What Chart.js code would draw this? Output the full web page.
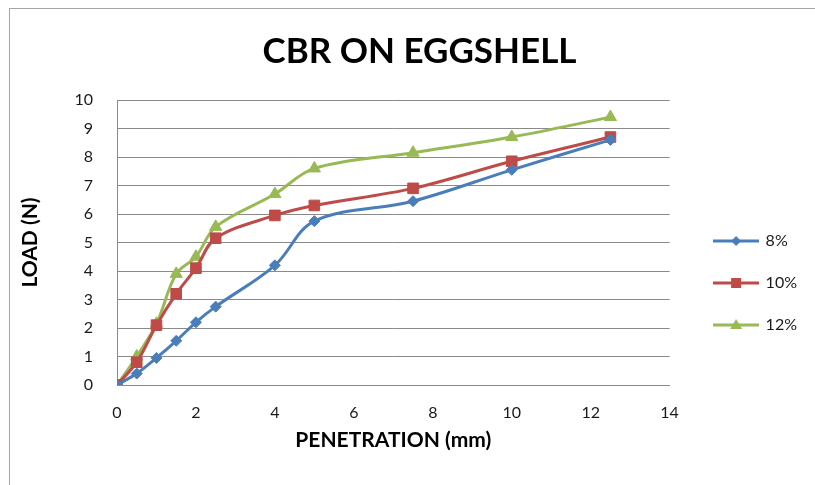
<!DOCTYPE html>
<html><head><meta charset="utf-8">
<script src="https://cdn.jsdelivr.net/npm/chart.js@4.4.1/dist/chart.umd.min.js"></script>
<style>
html,body{margin:0;padding:0;background:#fff;overflow:hidden}
#wrap{position:relative;width:815px;height:485px}
#frame{position:absolute;left:9px;top:8px;width:830px;height:490px;border:1px solid #a6a6a6;pointer-events:none}
canvas{position:absolute;left:0;top:0}
</style></head>
<body><div id="wrap"><canvas id="c" width="815" height="485"></canvas><div id="frame"></div></div>
<script>
const chartTitle = 'CBR ON EGGSHELL';
const xTitle = 'PENETRATION (mm)';
const yTitle = 'LOAD (N)';
const penetration = [0, 0.5, 1, 1.5, 2, 2.5, 4, 5, 7.5, 10, 12.5];
const load8  = [0, 0.4, 0.95, 1.55, 2.2, 2.75, 4.2, 5.75, 6.45, 7.55, 8.6];
const load10 = [0, 0.8, 2.1, 3.2, 4.1, 5.15, 5.95, 6.3, 6.9, 7.85, 8.7];
const load12 = [0, 1.0, 2.15, 3.9, 4.5, 5.55, 6.7, 7.6, 8.15, 8.7, 9.4];
const seriesNames = ['8%', '10%', '12%'];
const xTicks = [0, 2, 4, 6, 8, 10, 12, 14];
const yTicks = [0, 1, 2, 3, 4, 5, 6, 7, 8, 9, 10];

const colors = ['#4a7ebb', '#be4b48', '#98b954'];
const styles = ['rectRot', 'rect', 'triangle'];
const radii = [5.5, 7.5, 7];
const FONT = 'Lato';

function toPoints(ys) { return penetration.map((x, i) => ({x: x, y: ys[i]})); }

function makeIcon(idx) {
  const cv = document.createElement('canvas');
  cv.width = 46; cv.height = 16;
  const g = cv.getContext('2d');
  g.strokeStyle = colors[idx]; g.fillStyle = colors[idx]; g.lineWidth = 3;
  g.beginPath(); g.moveTo(0, 8); g.lineTo(46, 8); g.stroke();
  const cx = 23, cy = 8;
  g.beginPath();
  if (idx === 0) { g.moveTo(cx, cy - 5); g.lineTo(cx + 5, cy); g.lineTo(cx, cy + 5); g.lineTo(cx - 5, cy); }
  else if (idx === 1) { g.rect(cx - 5, cy - 5, 10, 10); }
  else { g.moveTo(cx, cy - 6); g.lineTo(cx + 6, cy + 4); g.lineTo(cx - 6, cy + 4); }
  g.closePath(); g.fill();
  return cv;
}
const icons = [makeIcon(0), makeIcon(1), makeIcon(2)];

const datasets = [load8, load10, load12].map((ys, i) => ({
  label: seriesNames[i],
  data: toPoints(ys),
  borderColor: colors[i],
  backgroundColor: colors[i],
  borderWidth: 3,
  pointStyle: styles[i],
  pointRadius: radii[i],
  pointBorderWidth: 1,
  pointBackgroundColor: colors[i],
  pointBorderColor: colors[i],
  tension: 0.35,
  fill: false
}));

new Chart(document.getElementById('c'), {
  type: 'line',
  data: { datasets: datasets },
  options: {
    responsive: false,
    animation: false,
    devicePixelRatio: 1,
    layout: { padding: { left: 32, top: 8, right: 8, bottom: 8 } },
    scales: {
      x: {
        type: 'linear', min: 0, max: 14,
        afterFit: s => { s.height = 92; },
        afterBuildTicks: s => { s.ticks = xTicks.map(v => ({value: v})); },
        grid: { display: false, drawTicks: false },
        border: { display: true, color: '#8a8a8a', width: 1 },
        ticks: { padding: 18.4, color: '#1a1a1a', font: { family: FONT, size: 16 } },
        title: { display: true, text: xTitle, color: '#000', font: { family: FONT, size: 21, weight: 'bold' }, padding: { top: 0, bottom: 24.4 } }
      },
      y: {
        type: 'linear', min: 0, max: 10,
        afterFit: s => { s.width = 85; },
        afterBuildTicks: s => { s.ticks = yTicks.map(v => ({value: v})); },
        grid: { display: true, color: '#8a8a8a', lineWidth: 1, drawTicks: false },
        border: { display: true, color: '#8a8a8a', width: 1 },
        ticks: { padding: 24, color: '#1a1a1a', font: { family: FONT, size: 16 } },
        title: { display: true, text: yTitle, color: '#000', font: { family: FONT, size: 21, weight: 'bold' }, padding: { top: -14.6, bottom: 0 } }
      },
      gap: {
        type: 'linear', position: 'right', display: true,
        afterFit: s => { s.width = 19; },
        grid: { display: false, drawTicks: false },
        border: { display: false },
        ticks: { display: false }
      }
    },
    plugins: {
      title: {
        display: true, text: chartTitle, color: '#000',
        font: { family: FONT, size: 35, weight: 'bold' },
        padding: { top: 23, bottom: 27 }
      },
      legend: {
        position: 'right', align: 'start',
        title: { display: true, text: ' ', font: { family: FONT, size: 10, lineHeight: 19.9 }, padding: 0 },
        labels: {
          usePointStyle: true, pointStyleWidth: 43, boxHeight: 16,
          padding: 26, color: '#1a1a1a', font: { family: FONT, size: 16 },
          generateLabels: chart => {
            const items = Chart.defaults.plugins.legend.labels.generateLabels(chart);
            items.forEach((it, i) => { it.pointStyle = icons[i]; });
            return items;
          }
        }
      },
      tooltip: { enabled: false }
    }
  }
});
</script>
</body></html>
